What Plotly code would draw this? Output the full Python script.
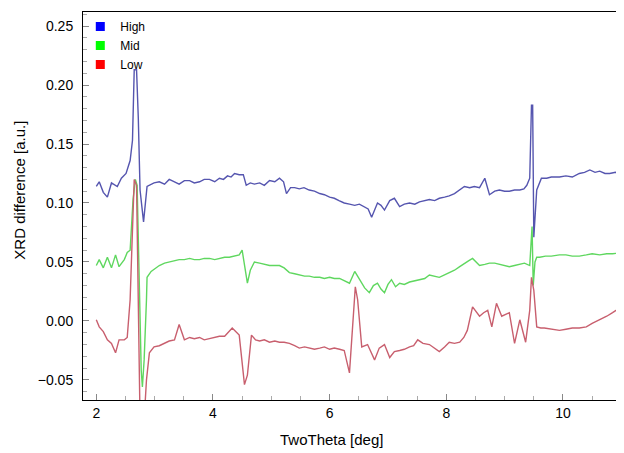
import plotly.graph_objects as go

# ---- data ----
high_x = [2.00, 2.05, 2.12, 2.19, 2.26, 2.36, 2.43, 2.51, 2.58, 2.62, 2.65, 2.69, 2.72, 2.75, 2.81,
          2.87, 2.99, 3.08, 3.17, 3.25, 3.34, 3.42, 3.51, 3.60, 3.68, 3.77, 3.85, 3.94, 4.03, 4.11,
          4.18, 4.25, 4.31, 4.37, 4.45, 4.52, 4.57, 4.64, 4.71, 4.80, 4.88, 4.97, 5.06, 5.14, 5.21,
          5.26, 5.33, 5.40, 5.48, 5.56, 5.65, 5.74, 5.83, 5.91, 6.00, 6.08, 6.16, 6.25, 6.34, 6.43,
          6.51, 6.60, 6.66, 6.72, 6.77, 6.82, 6.88, 6.94, 7.03, 7.11, 7.20, 7.28, 7.37, 7.46, 7.54,
          7.63, 7.71, 7.80, 7.88, 7.97, 8.05, 8.14, 8.23, 8.31, 8.40, 8.48, 8.57, 8.66, 8.74, 8.83,
          8.91, 9.00, 9.08, 9.17, 9.26, 9.33, 9.38, 9.43, 9.46, 9.48, 9.50, 9.55, 9.63, 9.72, 9.80,
          9.94, 10.05, 10.16, 10.28, 10.37, 10.46, 10.55, 10.63, 10.72, 10.80, 10.90, 10.97, 11.04]
high_y = [0.114, 0.118, 0.109, 0.105, 0.117, 0.114, 0.121, 0.125, 0.136, 0.153, 0.213, 0.213, 0.172, 0.111, 0.084,
          0.114, 0.117, 0.118, 0.116, 0.120, 0.118, 0.116, 0.119, 0.119, 0.117, 0.118, 0.120, 0.120, 0.118, 0.121,
          0.120, 0.123, 0.122, 0.125, 0.124, 0.124, 0.115, 0.117, 0.116, 0.117, 0.115, 0.119, 0.118, 0.121, 0.118,
          0.108, 0.113, 0.113, 0.112, 0.113, 0.111, 0.110, 0.108, 0.107, 0.105, 0.104, 0.102, 0.100, 0.099, 0.098,
          0.099, 0.097, 0.095, 0.088, 0.094, 0.100, 0.098, 0.094, 0.102, 0.104, 0.097, 0.099, 0.100, 0.099, 0.101,
          0.102, 0.103, 0.102, 0.104, 0.105, 0.106, 0.108, 0.111, 0.114, 0.113, 0.114, 0.113, 0.121, 0.107, 0.110,
          0.111, 0.110, 0.110, 0.111, 0.111, 0.112, 0.115, 0.121, 0.183, 0.183, 0.071, 0.111, 0.121, 0.121, 0.122,
          0.122, 0.123, 0.122, 0.125, 0.126, 0.128, 0.126, 0.127, 0.125, 0.125, 0.126, 0.125, 0.126]

mid_x = [2.00, 2.05, 2.12, 2.19, 2.26, 2.33, 2.39, 2.48, 2.53, 2.58, 2.63, 2.67, 2.70, 2.74, 2.77,
         2.79, 2.82, 2.86, 2.87, 2.94, 3.00, 3.08, 3.17, 3.25, 3.34, 3.42, 3.51, 3.60, 3.68, 3.77,
         3.85, 3.94, 4.03, 4.11, 4.20, 4.28, 4.37, 4.45, 4.50, 4.56, 4.59, 4.64, 4.71, 4.80, 4.88,
         4.97, 5.06, 5.14, 5.22, 5.31, 5.40, 5.48, 5.57, 5.65, 5.74, 5.83, 5.91, 6.00, 6.08, 6.17,
         6.25, 6.34, 6.43, 6.51, 6.60, 6.68, 6.75, 6.82, 6.88, 6.94, 7.00, 7.06, 7.13, 7.20, 7.28,
         7.37, 7.46, 7.54, 7.63, 7.71, 7.80, 7.88, 7.97, 8.05, 8.14, 8.23, 8.31, 8.38, 8.45, 8.51,
         8.57, 8.66, 8.74, 8.83, 8.91, 9.00, 9.08, 9.17, 9.26, 9.34, 9.43, 9.47, 9.49, 9.52, 9.55,
         9.60, 9.70, 9.80, 9.94, 10.05, 10.16, 10.28, 10.40, 10.50, 10.63, 10.75, 10.85, 10.97, 11.04]
mid_y = [0.047, 0.052, 0.045, 0.054, 0.045, 0.056, 0.046, 0.052, 0.058, 0.060, 0.103, 0.120, 0.115, 0.026, -0.042,
         -0.056, -0.033, 0.018, 0.037, 0.042, 0.044, 0.047, 0.049, 0.050, 0.051, 0.052, 0.052, 0.053, 0.052, 0.052,
         0.053, 0.053, 0.052, 0.053, 0.054, 0.054, 0.055, 0.056, 0.060, 0.043, 0.032, 0.043, 0.050, 0.049, 0.048,
         0.047, 0.047, 0.047, 0.045, 0.041, 0.040, 0.039, 0.038, 0.038, 0.037, 0.037, 0.036, 0.037, 0.036, 0.036,
         0.034, 0.032, 0.042, 0.035, 0.028, 0.024, 0.030, 0.032, 0.027, 0.024, 0.031, 0.035, 0.029, 0.032, 0.031,
         0.033, 0.034, 0.035, 0.036, 0.039, 0.038, 0.037, 0.039, 0.041, 0.043, 0.046, 0.049, 0.051, 0.053, 0.050,
         0.047, 0.048, 0.049, 0.049, 0.048, 0.047, 0.046, 0.047, 0.048, 0.049, 0.047, 0.080, 0.030, 0.050, 0.054,
         0.054, 0.055, 0.055, 0.056, 0.056, 0.055, 0.055, 0.056, 0.057, 0.056, 0.057, 0.057, 0.058, 0.058]

low_x = [2.00, 2.05, 2.12, 2.19, 2.26, 2.33, 2.39, 2.48, 2.53, 2.58, 2.62, 2.65, 2.69, 2.72, 2.75,
         2.82, 2.86, 2.91, 2.99, 3.08, 3.17, 3.25, 3.34, 3.42, 3.51, 3.60, 3.68, 3.77, 3.85, 3.94,
         4.03, 4.11, 4.20, 4.33, 4.45, 4.54, 4.59, 4.66, 4.73, 4.80, 4.88, 4.97, 5.06, 5.14, 5.22,
         5.31, 5.40, 5.48, 5.57, 5.65, 5.74, 5.83, 5.91, 6.00, 6.08, 6.17, 6.25, 6.34, 6.39, 6.44,
         6.48, 6.55, 6.65, 6.77, 6.85, 6.94, 7.03, 7.11, 7.20, 7.28, 7.37, 7.44, 7.51, 7.60, 7.71,
         7.80, 7.88, 7.97, 8.05, 8.14, 8.23, 8.30, 8.36, 8.45, 8.51, 8.57, 8.64, 8.71, 8.78, 8.86,
         8.95, 9.02, 9.08, 9.17, 9.26, 9.36, 9.43, 9.46, 9.50, 9.55, 9.62, 9.68, 9.80, 9.94, 10.05,
         10.16, 10.28, 10.40, 10.50, 10.63, 10.75, 10.85, 10.97, 11.04]
low_y = [0.001, -0.005, -0.009, -0.016, -0.019, -0.027, -0.016, -0.016, -0.014, 0.018, 0.077, 0.120, 0.115, 0.018, -0.084,
         -0.084, -0.050, -0.027, -0.022, -0.021, -0.019, -0.017, -0.016, -0.003, -0.016, -0.014, -0.015, -0.014, -0.016, -0.015,
         -0.014, -0.013, -0.013, -0.006, -0.012, -0.054, -0.046, -0.012, -0.016, -0.017, -0.016, -0.018, -0.017, -0.018, -0.018,
         -0.019, -0.021, -0.023, -0.022, -0.023, -0.024, -0.023, -0.022, -0.024, -0.023, -0.024, -0.025, -0.044, -0.008, 0.029,
         0.018, -0.022, -0.020, -0.033, -0.023, -0.020, -0.031, -0.026, -0.025, -0.024, -0.022, -0.021, -0.016, -0.019, -0.020,
         -0.023, -0.026, -0.022, -0.018, -0.019, -0.018, -0.014, -0.008, 0.012, 0.008, 0.004, 0.007, 0.009, -0.005, 0.015,
         0.004, 0.006, 0.007, -0.019, 0.001, -0.018, 0.009, 0.037, 0.026, -0.005, -0.006, -0.006, -0.007, -0.008, -0.007,
         -0.006, -0.006, -0.005, -0.002, 0.001, 0.004, 0.007, 0.011, 0.012]

series_names = ["High", "Mid", "Low"]
line_colors = ["rgb(85,85,175)", "rgb(95,215,95)", "rgb(200,95,110)"]
legend_colors = ["#0000ff", "#00ff00", "#ff0000"]

x_ticks = [2, 4, 6, 8, 10]
y_ticks = [-0.05, 0.00, 0.05, 0.10, 0.15, 0.20, 0.25]

FONT = "Liberation Sans, Arial, sans-serif"

fig = go.Figure()
for (xs, ys), name, lc in zip([(high_x, high_y), (mid_x, mid_y), (low_x, low_y)], series_names, line_colors):
    fig.add_trace(go.Scatter(x=xs, y=ys, mode="lines", name=name,
                             line=dict(color=lc, width=1.4), showlegend=False))
for name, c in zip(series_names, legend_colors):
    fig.add_trace(go.Scatter(x=[None], y=[None], mode="markers", name=name,
                             marker=dict(symbol="square", size=9, color=c)))

# page body has an 8px margin, so the figure is offset by 8px in the window
fig.update_layout(
    width=616, height=445,
    margin=dict(l=75, r=0, t=4, b=53),
    paper_bgcolor="white", plot_bgcolor="white",
    font=dict(family=FONT, size=14, color="black"),
    showlegend=True,
    legend=dict(x=-0.005, y=1.0, xanchor="left", yanchor="top",
                bgcolor="rgba(0,0,0,0)", font=dict(size=12, family=FONT),
                tracegroupgap=0, itemwidth=30),
    xaxis=dict(range=[1.772, 11.046], tickvals=x_ticks, ticktext=[str(v) for v in x_ticks],
               showgrid=False, zeroline=False, showline=True, linecolor="black", linewidth=1,
               mirror=True, ticks="inside", ticklen=6, tickcolor="#888",
               minor=dict(dtick=0.5, ticks="inside", ticklen=4, tickcolor="#aaa"),
               tickfont=dict(size=14)),
    yaxis=dict(range=[-0.067, 0.2619], tickvals=y_ticks, tickformat=".2f",
               showgrid=False, zeroline=False, showline=True, linecolor="black", linewidth=1,
               ticks="inside", ticklen=6, tickcolor="#888", ticklabelstandoff=6,
               minor=dict(dtick=0.01, ticks="inside", ticklen=4, tickcolor="#aaa"),
               tickfont=dict(size=14)),
    annotations=[
        dict(text="TwoTheta [deg]", xref="paper", yref="paper", x=0.459, y=-0.103,
             xanchor="center", yanchor="middle", showarrow=False, font=dict(size=15)),
        dict(text="XRD difference [a.u.]", xref="paper", yref="paper", x=-0.118, y=0.54,
             xanchor="center", yanchor="middle", textangle=-90, showarrow=False, font=dict(size=15)),
    ],
)

fig.write_html("out.html")
